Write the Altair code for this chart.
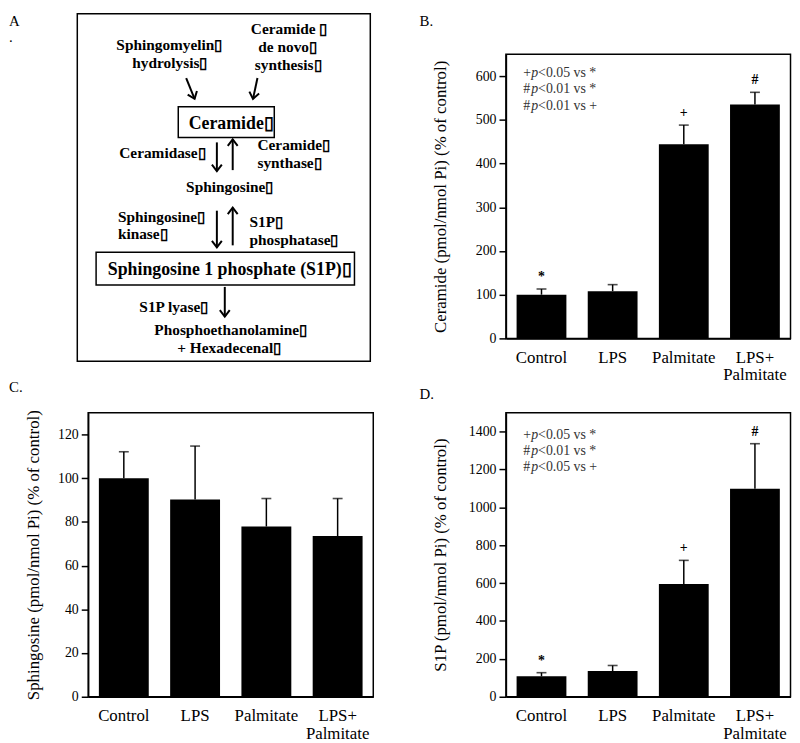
import altair as alt
import pandas as pd

# ---------------- data ----------------
categories = ["Control", "LPS", "Palmitate", "LPS+ Palmitate"]

ceramide_mean = [100, 108, 444, 535]
ceramide_upper = [113, 123, 488, 563]
ceramide_marks = ["*", "", "+", "#"]
ceramide_notes = [["+", "p", "<0.05 vs *"], ["#", "p", "<0.01 vs *"], ["#", "p", "<0.01 vs +"]]

sphingosine_mean = [100, 90.3, 77.9, 73.5]
sphingosine_upper = [112.1, 114.7, 90.7, 90.7]
sphingosine_marks = ["", "", "", ""]

s1p_mean = [108, 136, 595, 1098]
s1p_upper = [127, 165, 720, 1336]
s1p_marks = ["*", "", "+", "#"]
s1p_notes = [["+", "p", "<0.05 vs *"], ["#", "p", "<0.01 vs *"], ["#", "p", "<0.05 vs +"]]

# diagram (panel A) texts
T = "\u25af"
diag_center_labels = ["Sphingomyelin" + T, "hydrolysis" + T, "Ceramide " + T, "de novo" + T,
                      "synthesis" + T, "Ceramide" + T, "Ceramidase" + T, "Sphingosine" + T,
                      "Sphingosine 1 phosphate (S1P)" + T, "S1P lyase" + T,
                      "Phosphoethanolamine" + T, "+ Hexadecenal" + T]
diag_center_x = [170, 170.5, 291, 289.5, 290, 232.5, 163, 231, 231, 174.5, 232, 230.5]
diag_center_y = [40, 58, 24, 42, 60, 119, 149, 183, 267, 304, 328, 346]
diag_center_size = [15.5, 15.5, 15.5, 15.5, 15.5, 18, 15.5, 15.5, 18, 15.5, 15.5, 15.5]

diag_left_labels = ["Ceramide" + T, "synthase" + T, "Sphingosine" + T, "kinase" + T,
                    "S1P" + T, "phosphatase" + T]
diag_left_x = [259, 259, 118, 118, 251, 251]
diag_left_y = [141, 159, 213, 231, 218, 237]

diag_box_x = [77, 179, 96]
diag_box_x2 = [373, 276, 357]
diag_box_y = [8, 102, 249]
diag_box_y2 = [359, 133, 282]

arrow_x1 = [187, 259, 218, 234, 218, 234, 226]
arrow_y1 = [73, 73, 138, 166, 207, 242, 284]
arrow_x2 = [195.5, 254.5, 218, 234, 218, 234, 226]
arrow_y2 = [94, 94, 167, 135, 244, 204, 314]
arrow_angle = [339, 11, 0, 180, 0, 180, 0]

SERIF = "Liberation Serif"

# ---------------- panel A ----------------
xsc = alt.Scale(domain=[88, 376], nice=False, zero=False)
ysc = alt.Scale(domain=[8, 359], range=[-41, 310], nice=False, zero=False)

ctext = pd.DataFrame({"label": diag_center_labels, "x": diag_center_x, "y": diag_center_y,
                      "size": diag_center_size})
ltext = pd.DataFrame({"label": diag_left_labels, "x": diag_left_x, "y": diag_left_y})
boxes = pd.DataFrame({"x": diag_box_x, "x2": diag_box_x2, "y": diag_box_y, "y2": diag_box_y2})
arrows = pd.DataFrame({"x": arrow_x1, "y": arrow_y1, "hx": arrow_x2, "hy": arrow_y2,
                       "ang": arrow_angle})

A_center = alt.Chart(ctext).mark_text(font=SERIF, fontWeight="bold", align="center",
                                      baseline="middle", color="black").encode(
    x=alt.X("x:Q", scale=xsc, axis=None), y=alt.Y("y:Q", scale=ysc, axis=None),
    text="label:N", size=alt.Size("size:Q", scale=None, legend=None))
A_left = alt.Chart(ltext).mark_text(font=SERIF, fontWeight="bold", align="left",
                                    baseline="middle", fontSize=15.5, color="black").encode(
    x=alt.X("x:Q", scale=xsc, axis=None), y=alt.Y("y:Q", scale=ysc, axis=None),
    text="label:N")
A_boxes = alt.Chart(boxes).mark_rect(fillOpacity=0, stroke="black", strokeWidth=1.5).encode(
    x=alt.X("x:Q", scale=xsc, axis=None), x2="x2:Q",
    y=alt.Y("y:Q", scale=ysc, axis=None), y2="y2:Q")
A_shafts = alt.Chart(arrows).mark_rule(color="black", strokeWidth=2).encode(
    x=alt.X("x:Q", scale=xsc, axis=None), x2="hx:Q",
    y=alt.Y("y:Q", scale=ysc, axis=None), y2="hy:Q")
A_heads = alt.Chart(arrows).mark_point(shape="M-1,-1.3L0,0L1,-1.3", filled=False,
                                       strokeWidth=2, size=100, color="black", opacity=1).encode(
    x=alt.X("hx:Q", scale=xsc, axis=None), y=alt.Y("hy:Q", scale=ysc, axis=None),
    angle=alt.Angle("ang:Q", scale=None))
A_letter = alt.Chart(pd.DataFrame({"t": ["A"]})).mark_text(
    font=SERIF, fontSize=15, align="left", baseline="top", color="black").encode(
    x=alt.value(8 - 88), y=alt.value(-41), text="t:N")
A_dot = alt.Chart(pd.DataFrame({"t": ["."]})).mark_text(
    font=SERIF, fontSize=15, align="left", baseline="alphabetic", color="black").encode(
    x=alt.value(8 - 88), y=alt.value(37 - 49), text="t:N")

panel_A = alt.layer(A_boxes, A_shafts, A_heads, A_center, A_left, A_letter, A_dot).properties(
    width=288, height=287, view=alt.ViewBackground(stroke="transparent"))


# ---------------- bar panels ----------------
def text_at(t, x, y, **kw):
    props = dict(font=SERIF, fontSize=14, align="left", baseline="middle", color="black")
    props.update(kw)
    return alt.Chart(pd.DataFrame({"t": [t]})).mark_text(**props).encode(
        x=alt.value(x), y=alt.value(y), text="t:N")


def bar_panel(mean, upper, marks, ytitle, ymax, tickmax, step, width, title_x,
              notes, note_x, note_y0, letter, letter_x, letter_y):
    df = pd.DataFrame({"cat": categories, "mean": mean, "upper": upper, "mark": marks})
    xaxis = alt.Axis(labelAngle=0, labelExpr="split(datum.label, ' ')", ticks=False,
                     tickSize=0, labelPadding=11, labelFontSize=17, labelLineHeight=18,
                     domainWidth=1.5, labelLimit=300, title=None)
    x = alt.X("cat:N", sort=categories, title=None,
              scale=alt.Scale(paddingInner=0.3, paddingOuter=0.15), axis=xaxis)
    yaxis = alt.Axis(values=list(range(0, tickmax + 1, step)), format="d", tickSize=7,
                     labelPadding=3, tickWidth=1.5, domainWidth=1.5, titleX=title_x,
                     titleBaseline="middle", titleFontSize=17, labelFontSize=14, grid=False,
                     titleFontWeight="normal", title=ytitle)
    ysc_ = alt.Scale(domain=[0, ymax], nice=False, zero=True)
    base = alt.Chart(df)
    bars = base.mark_bar(color="black").encode(
        x=x, y=alt.Y("mean:Q", scale=ysc_, axis=yaxis, title=ytitle))
    rule = base.mark_rule(color="black", strokeWidth=1.5).encode(
        x=x, y=alt.Y("mean:Q", scale=ysc_, axis=yaxis, title=ytitle), y2="upper:Q")
    cap = base.mark_tick(color="black", size=10, thickness=1.6).encode(
        x=x, y=alt.Y("upper:Q", scale=ysc_, axis=yaxis, title=ytitle))
    sym = base.mark_text(font=SERIF, fontSize=14, fontWeight="bold", baseline="middle",
                         dy=-12, color="black").encode(
        x=x, y=alt.Y("upper:Q", scale=ysc_, axis=yaxis, title=ytitle), text="mark:N")
    layers = [bars, rule, cap, sym]
    for i, (pre, p, rest) in enumerate(notes):
        yy = note_y0 + i * 16.3
        layers.append(text_at(pre, note_x, yy, color="#333333"))
        layers.append(text_at(p, note_x + 8, yy, color="#333333", fontStyle="italic"))
        layers.append(text_at(rest, note_x + 15, yy, color="#333333"))
    if letter:
        layers.append(text_at(letter, letter_x, letter_y, fontSize=15, baseline="top"))
    return alt.layer(*layers).properties(width=width, height=287)


panel_B = bar_panel(ceramide_mean, ceramide_upper, ceramide_marks,
                    "Ceramide (pmol/nmol Pi) (% of control)", 650, 600, 100, 287.5, -66.5,
                    ceramide_notes, 17.5, 19.3, "B.", 422.7 - 510, 8 - 49)
panel_C = bar_panel(sphingosine_mean, sphingosine_upper, sphingosine_marks,
                    "Sphingosine (pmol/nmol Pi) (% of control)", 130, 120, 20, 288, -55.3,
                    [], 0, 0, "C.", 8 - 88, -33)
panel_D = bar_panel(s1p_mean, s1p_upper, s1p_marks,
                    "S1P (pmol/nmol Pi) (% of control)", 1500, 1400, 200, 287.5, -66.5,
                    s1p_notes, 17.5, 22.3, "D.", 422.7 - 510, -26)

chart = alt.concat(panel_A, panel_B, panel_C, panel_D, columns=2,
                   spacing={"row": 75, "column": 134}, bounds="flush",
                   padding={"left": 0, "top": 0, "right": 0, "bottom": 0}).configure_view(
    stroke="black", strokeWidth=1.5).configure_axis(
    labelFont=SERIF, titleFont=SERIF, labelColor="black", titleColor="black",
    domainColor="black", tickColor="black", grid=False)

chart.save("out.html", embed_options={"renderer": "svg", "actions": False})
